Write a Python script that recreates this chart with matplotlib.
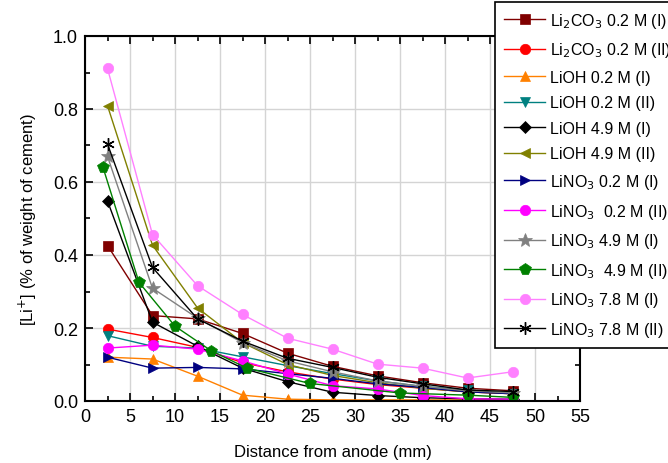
import matplotlib
matplotlib.use("Agg")
import matplotlib.pyplot as plt
from matplotlib.ticker import MultipleLocator

plt.rcParams['font.family'] = ['Liberation Sans', 'DejaVu Sans']

x_std = [2.5, 7.5, 12.5, 17.5, 22.5, 27.5, 32.5, 37.5, 42.5, 47.5]
x_green = [2, 6, 10, 14, 18, 25, 35, 42.5, 47.5]

labels = [
    r"Li$_2$CO$_3$ 0.2 M (I)",
    r"Li$_2$CO$_3$ 0.2 M (II)",
    "LiOH 0.2 M (I)",
    "LiOH 0.2 M (II)",
    "LiOH 4.9 M (I)",
    "LiOH 4.9 M (II)",
    r"LiNO$_3$ 0.2 M (I)",
    r"LiNO$_3$  0.2 M (II)",
    r"LiNO$_3$ 4.9 M (I)",
    r"LiNO$_3$  4.9 M (II)",
    r"LiNO$_3$ 7.8 M (I)",
    r"LiNO$_3$ 7.8 M (II)",
]

li2co3_02_I = [0.426, 0.234, 0.225, 0.185, 0.131, 0.095, 0.069, 0.050, 0.035, 0.028]
li2co3_02_II = [0.197, 0.174, 0.147, 0.105, 0.080, 0.060, 0.045, 0.035, 0.025, 0.020]
lioh_02_I = [0.120, 0.115, 0.068, 0.016, 0.005, 0.003, 0.003, 0.003, 0.003, 0.003]
lioh_02_II = [0.179, 0.150, 0.145, 0.121, 0.097, 0.075, 0.055, 0.040, 0.030, 0.020]
lioh_49_I = [0.548, 0.216, 0.150, 0.090, 0.053, 0.024, 0.015, 0.009, 0.006, 0.005]
lioh_49_II = [0.809, 0.427, 0.255, 0.160, 0.100, 0.070, 0.050, 0.035, 0.025, 0.020]
lino3_02_I = [0.120, 0.090, 0.092, 0.088, 0.075, 0.062, 0.047, 0.037, 0.025, 0.020]
lino3_02_II = [0.145, 0.153, 0.142, 0.110, 0.074, 0.042, 0.033, 0.015, 0.006, 0.005]
lino3_49_I = [0.670, 0.309, 0.227, 0.160, 0.110, 0.080, 0.055, 0.040, 0.028, 0.022]
lino3_49_II = [0.640, 0.325, 0.205, 0.138, 0.090, 0.048, 0.022, 0.016, 0.010]
lino3_78_I = [0.911, 0.456, 0.316, 0.237, 0.172, 0.142, 0.101, 0.090, 0.063, 0.080]
lino3_78_II = [0.704, 0.366, 0.225, 0.164, 0.117, 0.092, 0.065, 0.047, 0.030, 0.026]

series = [
    (x_std, li2co3_02_I, '#800000', 's'),
    (x_std, li2co3_02_II, '#ff0000', 'o'),
    (x_std, lioh_02_I, '#ff8000', '^'),
    (x_std, lioh_02_II, '#008080', 'v'),
    (x_std, lioh_49_I, '#000000', 'D'),
    (x_std, lioh_49_II, '#808000', '<'),
    (x_std, lino3_02_I, '#000080', '>'),
    (x_std, lino3_02_II, '#ff00ff', 'o'),
    (x_std, lino3_49_I, '#808080', '*'),
    (x_green, lino3_49_II, '#008000', 'p'),
    (x_std, lino3_78_I, '#ff80ff', 'o'),
    (x_std, lino3_78_II, '#000000', (6, 2, 0)),
]

fig = plt.figure(figsize=(6.68, 4.64), dpi=100)
ax = fig.add_axes([85/668, 1-402/464, (580-85)/668, (402-37)/464])

handles = []
for (xs, ys, c, m), lab in zip(series, labels):
    ms = 7.5
    if m == '*':
        ms = 10
    if m == 'D':
        ms = 6.5
    if m == 'p':
        ms = 8.5
    if isinstance(m, tuple):
        ms = 9
    mew = 1.0 if isinstance(m, tuple) else 0.5
    h, = ax.plot(xs, ys, color=c, marker=m, markersize=ms, linewidth=1.0,
                 markeredgecolor=c, markerfacecolor=c, markeredgewidth=mew,
                 label=lab)
    handles.append(h)

ax.set_xlim(0, 55)
ax.set_ylim(0, 1.0)
ax.xaxis.set_major_locator(MultipleLocator(5))
ax.xaxis.set_minor_locator(MultipleLocator(2.5))
ax.yaxis.set_major_locator(MultipleLocator(0.2))
ax.yaxis.set_minor_locator(MultipleLocator(0.1))
ax.set_yticks([0.0, 0.2, 0.4, 0.6, 0.8, 1.0])
ax.set_yticklabels(["0.0", "0.2", "0.4", "0.6", "0.8", "1.0"])
ax.grid(True, which='major', color='#d4d4d4', linewidth=1.0)
ax.set_axisbelow(True)
ax.tick_params(which='both', direction='in', top=True, right=True, labelsize=13, width=1.2)
ax.tick_params(which='major', length=6, pad=5)
ax.tick_params(which='minor', length=3.5)
for s in ax.spines.values():
    s.set_linewidth(1.5)

ax.set_xlabel("Distance from anode (mm)", fontsize=12, labelpad=14)
ax.set_ylabel(r"[Li$^{+}$] (% of weight of cement)", fontsize=12, labelpad=10)

leg = fig.legend(handles=handles, loc='upper left',
                 bbox_to_anchor=(495/668, 1-3/464), bbox_transform=fig.transFigure,
                 fontsize=11.5, frameon=True, fancybox=False, framealpha=1,
                 edgecolor='black', handlelength=2.6, handletextpad=0.3,
                 labelspacing=0.66, borderpad=0.55, borderaxespad=0)
leg.get_frame().set_linewidth(1.2)

fig.savefig("out.png", dpi=100)
